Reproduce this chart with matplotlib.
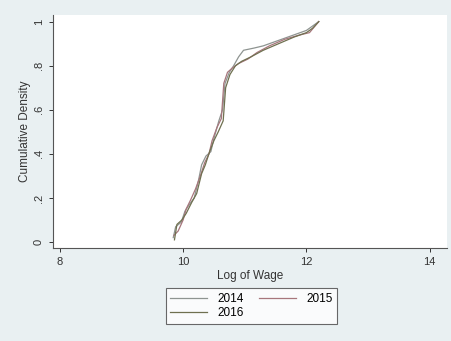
import matplotlib.pyplot as plt

# cumulative wage distribution by year
x2014 = [9.84, 9.88, 9.97, 10.03, 10.1, 10.18, 10.25, 10.3, 10.37, 10.45, 10.5, 10.58,
         10.64, 10.68, 10.75, 10.82, 10.9, 10.98, 11.15, 11.3, 11.5, 11.8, 12.0, 12.2]
y2014 = [0.02, 0.07, 0.09, 0.14, 0.17, 0.2, 0.28, 0.35, 0.39, 0.41, 0.47, 0.55,
         0.6, 0.72, 0.77, 0.8, 0.84, 0.87, 0.88, 0.89, 0.91, 0.94, 0.96, 1.0]

x2015 = [9.85, 9.92, 10.0, 10.05, 10.12, 10.2, 10.28, 10.35, 10.42, 10.47, 10.55,
         10.62, 10.66, 10.72, 10.8, 10.9, 11.05, 11.2, 11.4, 11.65, 11.9, 12.05, 12.2]
y2015 = [0.03, 0.05, 0.1, 0.15, 0.19, 0.24, 0.3, 0.36, 0.4, 0.46, 0.52,
         0.56, 0.72, 0.77, 0.79, 0.81, 0.83, 0.86, 0.89, 0.92, 0.94, 0.95, 1.0]

x2016 = [9.86, 9.9, 9.98, 10.05, 10.14, 10.22, 10.3, 10.36, 10.43, 10.5, 10.57,
         10.65, 10.69, 10.76, 10.85, 10.95, 11.1, 11.3, 11.55, 11.8, 12.0, 12.1, 12.2]
y2016 = [0.01, 0.08, 0.1, 0.13, 0.18, 0.22, 0.31, 0.35, 0.41, 0.46, 0.5,
         0.55, 0.7, 0.76, 0.8, 0.82, 0.84, 0.87, 0.9, 0.93, 0.95, 0.97, 1.0]

xticks = [8, 10, 12, 14]
yticks = [0, 0.2, 0.4, 0.6, 0.8, 1]
ylabels = ['0', '.2', '.4', '.6', '.8', '1']

plt.rcParams['font.family'] = ['Liberation Sans', 'DejaVu Sans']

fig = plt.figure(figsize=(4.52, 3.41), dpi=100, facecolor='#e9f0f2')
ax = fig.add_axes([53 / 452, 1 - 248 / 341, 394 / 452, 233 / 341])
ax.set_facecolor('white')

l14, = ax.plot(x2014, y2014, color='#8e9491', lw=0.9)
l15, = ax.plot(x2015, y2015, color='#a7767c', lw=0.9)
l16, = ax.plot(x2016, y2016, color='#6f7050', lw=0.9)

ax.set_xlim(7.89, 14.28)
ax.set_ylim(-0.027, 1.03)
ax.set_xticks(xticks)
ax.set_yticks(yticks)
ax.set_yticklabels(ylabels, rotation=90, va='center')
ax.tick_params(labelsize=8, colors='#333333', length=3, width=0.7)

for s in ['top', 'right']:
    ax.spines[s].set_visible(False)
for s in ['left', 'bottom']:
    ax.spines[s].set_color('#555555')
    ax.spines[s].set_linewidth(0.8)

ax.set_xlabel('Log of Wage', fontsize=8.5, color='#333333', labelpad=2)
ax.set_ylabel('Cumulative Density', fontsize=8.5, color='#333333', labelpad=2)

# row-major order like Stata: 2014, 2015 / 2016
leg = fig.legend([l14, l16, l15], ['2014', '2016', '2015'], loc='center',
                 bbox_to_anchor=(251.5 / 452, 1 - 306 / 341), ncol=2,
                 fontsize=8.5, frameon=True, fancybox=False, handlelength=3.1,
                 handletextpad=0.9, columnspacing=1.3, borderpad=0.4, labelspacing=0.2)
leg.get_frame().set_edgecolor('#444444')
leg.get_frame().set_linewidth(0.8)

plt.savefig('out.png', dpi=100, facecolor=fig.get_facecolor())
